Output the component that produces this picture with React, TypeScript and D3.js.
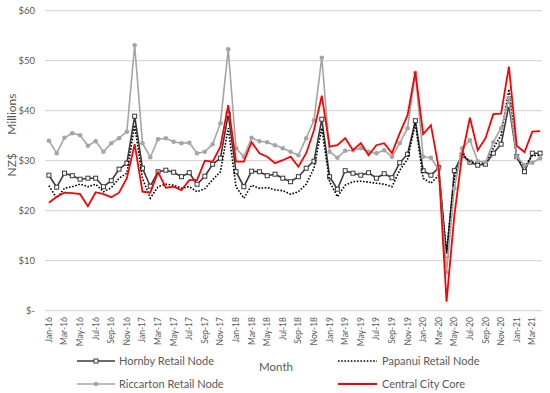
import React from "react";
import * as d3 from "d3";

const monthNames = ["Jan","Feb","Mar","Apr","May","Jun","Jul","Aug","Sep","Oct","Nov","Dec"];
const months: string[] = [];
for (let y = 16; y <= 21; y++) for (let m = 0; m < 12; m++) if (!(y === 21 && m > 3)) months.push(`${monthNames[m]}-${y}`);

const hornby = [27.1,24.7,27.5,27.0,26.3,26.5,26.5,24.8,26.0,28.3,29.5,38.9,28.5,24.9,27.8,28.1,27.7,26.8,27.6,25.3,26.9,29.3,30.5,39.3,27.8,24.8,27.9,27.8,27.0,27.3,26.5,25.8,26.8,28.5,29.9,38.3,26.8,24.3,28.0,27.5,27.1,27.6,26.5,27.4,26.6,29.6,31.3,38.0,28.0,27.1,28.6,11.1,28.0,31.1,29.7,29.1,29.3,31.5,33.3,41.1,30.8,27.8,31.5,31.5];
const papanui = [25.0,22.5,24.5,24.8,25.3,24.8,25.3,23.8,24.6,26.5,27.5,37.1,26.5,22.5,24.8,25.3,25.1,24.5,24.8,23.8,24.4,26.2,27.8,36.5,24.8,22.5,25.1,24.5,24.6,24.2,24.0,23.3,23.8,25.3,28.5,36.5,25.8,22.8,25.1,25.8,25.9,25.7,25.5,25.3,24.8,28.1,30.3,37.5,26.5,25.5,27.1,11.8,26.5,31.5,29.8,29.5,29.5,32.5,35.1,44.3,30.5,28.8,31.0,31.1];
const riccarton = [34.0,31.5,34.6,35.5,35.1,33.0,33.9,31.8,33.5,34.5,35.8,53.1,33.5,30.7,34.3,34.5,33.8,33.5,33.6,31.5,31.8,33.3,37.5,52.3,32.5,30.8,34.6,33.9,33.7,33.1,32.5,31.8,31.1,34.5,38.1,50.6,31.8,30.6,32.0,32.1,32.5,31.8,31.5,32.1,30.8,33.5,36.5,47.6,30.8,30.6,28.2,7.7,24.5,32.5,34.1,29.9,29.7,33.7,36.5,42.5,30.8,29.1,29.6,30.5];
const central = [21.6,22.8,23.6,23.5,23.3,20.9,23.7,23.3,22.7,23.6,26.5,33.3,23.8,23.6,27.7,24.6,24.8,24.1,26.1,26.1,30.0,29.8,32.8,41.1,29.8,29.8,33.7,31.5,30.8,29.5,30.1,30.8,28.8,31.5,36.1,43.0,32.8,33.1,34.5,32.1,33.5,31.1,33.1,33.5,31.5,35.5,39.1,47.8,35.3,37.1,28.5,1.8,19.0,31.1,38.6,32.1,34.5,39.3,39.4,48.8,33.0,31.7,35.8,35.9];

const yTicks = [0, 10, 20, 30, 40, 50, 60];

const font = "Lato, 'Open Sans', sans-serif";
const textColor = "#595959";

export default function App() {
  const W = 550, H = 393;
  const left = 45, right = 544, top = 10.7, bottom = 310.7;
  const x = d3.scaleBand<string>().domain(months).range([left, right]).padding(0);
  const cx = (i: number) => (x(months[i]) as number) + x.bandwidth() / 2;
  const y = d3.scaleLinear().domain([0, 60]).range([bottom, top]);
  const line = d3.line<number>().x((_, i) => cx(i)).y((d) => y(d));

  return (
    <svg width={W} height={H} style={{ position: "absolute", left: 0, top: 0 }}>
      <rect width={W} height={H} fill="#fff" />
      {yTicks.map((t) => (
        <g key={t}>
          <line x1={left} x2={542} y1={y(t)} y2={y(t)} stroke="#d9d9d9" strokeWidth={1.2} />
          <text x={35} y={y(t)} dy="0.35em" textAnchor="end" fontSize={9.5} fill={textColor} fontFamily={font}>
            {t === 0 ? "$-" : `$${t}`}
          </text>
        </g>
      ))}
      {months.map((m, i) =>
        i % 2 === 0 ? (
          <text key={m} transform={`translate(${cx(i)},317) rotate(-90)`} textAnchor="end" dominantBaseline="central"
            fontSize={8.5} fill={textColor} fontFamily={font}>{m}</text>
        ) : null
      )}
      <text transform="translate(11,135) rotate(-90)" textAnchor="middle" dominantBaseline="central" fontSize={12}
        fill={textColor} fontFamily={font} style={{ whiteSpace: "pre" }}>{"NZ$      Millions"}</text>
      <text x={276} y={371} textAnchor="middle" fontSize={11.5} fill={textColor} fontFamily={font}>Month</text>

      <path d={line(hornby) || ""} fill="none" stroke="#3a3a3a" strokeWidth={1.6} />
      {hornby.map((v, i) => (
        <rect key={i} x={cx(i) - 2} y={y(v) - 2} width={4} height={4} fill="#fff" stroke="#3a3a3a" strokeWidth={1} />
      ))}
      <path d={line(papanui) || ""} fill="none" stroke="#000" strokeWidth={1.6} strokeDasharray="1.6,1.6" />
      <path d={line(riccarton) || ""} fill="none" stroke="#a5a5a5" strokeWidth={1.6} />
      {riccarton.map((v, i) => (
        <circle key={i} cx={cx(i)} cy={y(v)} r={2.3} fill="#a5a5a5" />
      ))}
      <path d={line(central) || ""} fill="none" stroke="#ff0000" strokeWidth={1.8} />

      <g fontFamily={font} fontSize={11} fill={textColor}>
        <line x1={77} x2={115} y1={361} y2={361} stroke="#3a3a3a" strokeWidth={1.6} />
        <rect x={94} y={359} width={4} height={4} fill="#fff" stroke="#3a3a3a" strokeWidth={1} />
        <text x={119} y={361} dy="0.35em">Hornby Retail Node</text>
        <line x1={338} x2={377} y1={361} y2={361} stroke="#000" strokeWidth={1.6} strokeDasharray="1.6,1.6" />
        <text x={382} y={361} dy="0.35em">Papanui Retail Node</text>
        <line x1={77} x2={115} y1={384} y2={384} stroke="#a5a5a5" strokeWidth={1.6} />
        <circle cx={96} cy={384} r={2.3} fill="#a5a5a5" />
        <text x={119} y={384} dy="0.35em">Riccarton Retail Node</text>
        <line x1={338} x2={377} y1={384} y2={384} stroke="#ff0000" strokeWidth={1.8} />
        <text x={382} y={384} dy="0.35em">Central City Core</text>
      </g>
    </svg>
  );
}
